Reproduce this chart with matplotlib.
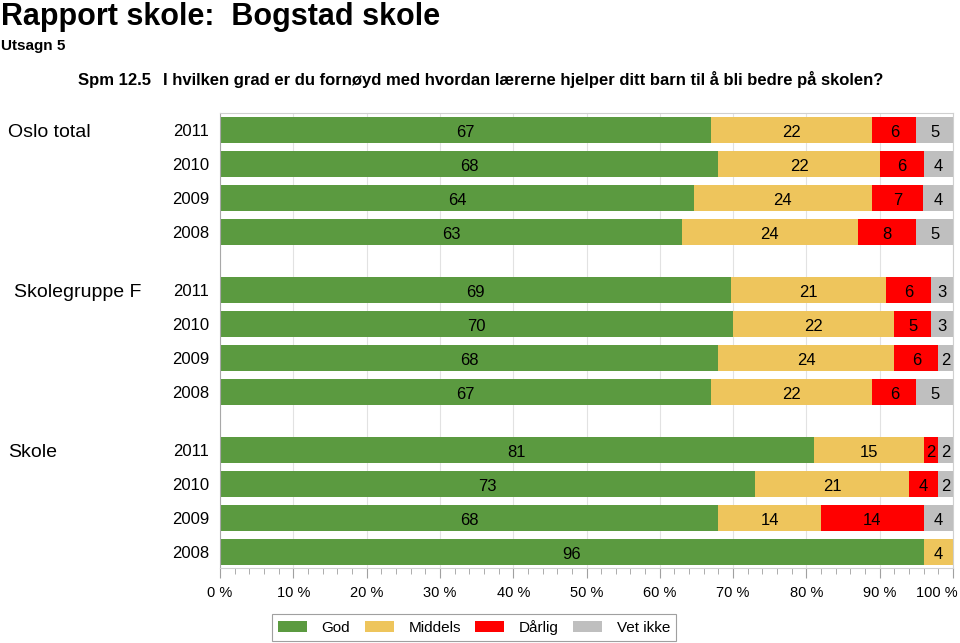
import numpy as np
import matplotlib.pyplot as plt
from matplotlib.transforms import blended_transform_factory, ScaledTranslation

groups = ['Oslo total', 'Skolegruppe F', 'Skole']
years = ['2011', '2010', '2009', '2008']
categories = ['God', 'Middels', 'Dårlig', 'Vet ikke']

# one value per bar, groups in order Oslo total, Skolegruppe F, Skole
god = [67, 68, 64, 63, 69, 70, 68, 67, 81, 73, 68, 96]
middels = [22, 22, 24, 24, 21, 22, 24, 22, 15, 21, 14, 4]
darlig = [6, 6, 7, 8, 6, 5, 6, 6, 2, 4, 14, 0]
vet_ikke = [5, 4, 4, 5, 3, 3, 2, 5, 2, 2, 4, 0]

colors = ['#5B9A40', '#EEC55C', '#FF0000', '#BFBFBF']

plt.rcParams['font.family'] = ['Liberation Sans', 'DejaVu Sans']

fig = plt.figure(figsize=(9.6, 6.43), dpi=100)
ax = fig.add_axes([220 / 960, 1 - 568 / 643, 733 / 960, 455 / 643])

group_step = 4.706
ypos = np.array([g * group_step + r for g in range(len(groups)) for r in range(len(years))])

data = np.array([god, middels, darlig, vet_ikke], dtype=float)
share = data / data.sum(axis=0) * 100

left = np.zeros(len(ypos))
for vals, pct, name, col in zip(data, share, categories, colors):
    ax.barh(ypos, pct, left=left, height=0.76, color=col, label=name, zorder=2)
    for y, v, p, l in zip(ypos, vals, pct, left):
        if v > 0:
            ax.text(l + p / 2, y + 0.06, '%d' % v, ha='center', va='center',
                    fontsize=12, zorder=3)
    left += pct

ax.set_xlim(0, 100)
ax.set_ylim(ypos[-1] + 0.47, -0.5)
ax.set_xticks(np.arange(0, 101, 10))
ax.set_xticklabels(['%d %%' % v for v in range(0, 101, 10)], fontsize=10.5)
ax.set_xticks(np.arange(0, 101, 2), minor=True)
ax.tick_params(axis='x', which='major', length=7, color='#A0A0A0', pad=6)
ax.tick_params(axis='x', which='minor', length=4, color='#A0A0A0')
# last label is pulled in so it stays inside the figure
last = ax.get_xticklabels()[-1]
last.set_ha('right')
last.set_transform(last.get_transform() + ScaledTranslation(5 / 100, 0, fig.dpi_scale_trans))
ax.set_yticks(ypos)
ax.set_yticklabels(years * len(groups), fontsize=12)
ax.tick_params(axis='y', length=0, pad=8)
ax.grid(axis='x', which='major', color='#E2E2E2', linewidth=0.8)
ax.set_axisbelow(True)
for side in ['top', 'right', 'bottom']:
    ax.spines[side].set_color('#D0D0D0')
ax.spines['left'].set_color('#A8A8A8')
for sp in ax.spines.values():
    sp.set_linewidth(0.8)

trans = blended_transform_factory(fig.transFigure, ax.transData)
group_x = [8, 14, 8]
for g, name in enumerate(groups):
    ax.text(group_x[g] / 960, ypos[g * len(years)] + 0.06, name, transform=trans,
            fontsize=14, va='center', ha='left')

fig.text(1 / 960, 1 - 25 / 643, 'Rapport skole:  Bogstad skole', fontsize=22,
         fontweight='bold', va='baseline')
fig.text(1 / 960, 1 - 50 / 643, 'Utsagn 5', fontsize=11, fontweight='bold', va='baseline')
fig.text(78 / 960, 1 - 85 / 643, 'Spm 12.5', fontsize=12, fontweight='bold', va='baseline')
fig.text(163 / 960, 1 - 85 / 643,
         'I hvilken grad er du fornøyd med hvordan lærerne hjelper ditt barn til å bli bedre på skolen?',
         fontsize=12, fontweight='bold', va='baseline')

leg = fig.legend(loc='lower left', bbox_to_anchor=(272 / 960, 2 / 643), ncol=4,
                 fontsize=11, frameon=True, fancybox=False, framealpha=1,
                 edgecolor='#A0A0A0', handlelength=1.9, handleheight=0.72,
                 handletextpad=0.95, columnspacing=0.95, borderpad=0.4,
                 borderaxespad=0)
leg.get_frame().set_linewidth(0.8)

fig.savefig('out.png', dpi=100)
